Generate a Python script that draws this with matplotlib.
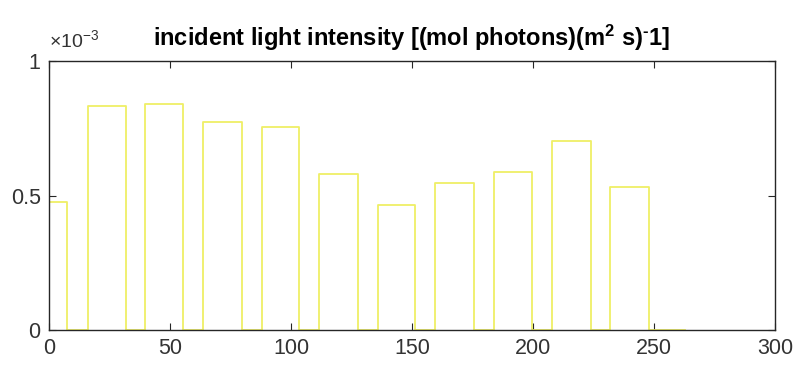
import numpy as np
import matplotlib
matplotlib.use("Agg")
import matplotlib.pyplot as plt
from matplotlib.ticker import FuncFormatter

plt.rcParams['font.family'] = ['Liberation Sans', 'DejaVu Sans']
plt.rcParams['mathtext.default'] = 'regular'

# light periods (days) and incident intensity during each
on_start = [0, 16, 39.5, 63.8, 87.9, 111.7, 135.8, 159.5, 184, 207.7, 232]
on_end = [7.5, 31.7, 55.3, 79.6, 103.4, 127.5, 151.3, 175.6, 199.5, 223.8, 248]
level = [0.477e-3, 0.833e-3, 0.839e-3, 0.773e-3, 0.756e-3, 0.579e-3,
         0.465e-3, 0.545e-3, 0.588e-3, 0.703e-3, 0.530e-3]
t_end = 263

# build the square wave
t = []
I = []
for s, e, v in zip(on_start, on_end, level):
    t += [s, s, e, e]
    I += [0, v, v, 0]
t.append(t_end)
I.append(0)

fig = plt.figure(figsize=(7.93, 3.74), dpi=100)
ax = fig.add_axes([0.0618, 0.1176, 0.9155, 0.7193])

ax.plot(t, I, color='#efef66', lw=1.3)

ax.set_xlim(0, 300)
ax.set_ylim(0, 1e-3)
ax.set_xticks(np.arange(0, 301, 50))
ax.set_yticks([0, 0.5e-3, 1e-3])
ax.yaxis.set_major_formatter(FuncFormatter(lambda v, p: f"{v * 1e3:g}"))

dark = '#262626'
for sp in ax.spines.values():
    sp.set_color(dark)
    sp.set_linewidth(1.0)
ax.tick_params(direction='in', length=5, width=0.8, color=dark, labelcolor='#333333',
               labelsize=15.5, top=True, right=True, pad=6)

ax.text(0.0, 1.035, r'$\times$10$^{-3}$', transform=ax.transAxes, fontsize=14,
        color='#333333', ha='left', va='bottom')

ax.set_title('incident light intensity [(mol photons)(m$^2$ s)$^{\u2010}$1]',
             fontsize=17, fontweight='bold', pad=11)

fig.savefig('out.png', dpi=100)
